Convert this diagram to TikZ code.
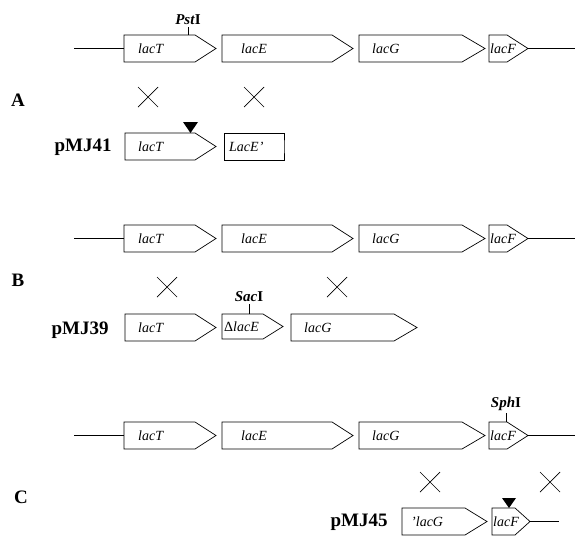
\documentclass[tikz,border=0pt]{standalone}
\usepackage{fontspec}
\setmainfont{Liberation Serif}
\newcommand\gn[8]{%
  \draw[gene] (#2,#5) -- (#3,#5) -- (#4,{(#5+#6)/2}) -- (#3,#6) -- (#2,#6) -- cycle;
  \node[glab] (#1) at (#7,{(#5+#6)/2+5}) {#8};}
\newcommand\xcross[2]{\draw[xo] (#1-10,#2-10) -- (#1+10,#2+10) (#1-10,#2+10) -- (#1+10,#2-10);}
\begin{document}
\begin{tikzpicture}[x=1pt,y=-1pt,
  gene/.style={draw, line width=0.7pt, line join=miter},
  glab/.style={font=\fontsize{14}{14}\selectfont\itshape, anchor=base west, inner sep=0pt},
  big/.style={font=\fontsize{19}{19}\selectfont\bfseries, anchor=base, inner sep=0pt},
  site/.style={font=\fontsize{15}{15}\selectfont\bfseries, anchor=south, inner sep=1pt},
  xo/.style={line width=0.7pt},
  dna/.style={line width=0.7pt}]
\useasboundingbox (0,0) rectangle (588,549);
% ---------- Panel A ----------
\coordinate (aL) at (74,48.5);
\coordinate (aR) at (575,48.5);
\gn{aT}{124}{195}{216}{35}{62}{138}{lacT}
\gn{aE}{222}{332}{353}{35}{62}{241}{lacE}
\gn{aG}{359}{462}{485}{35}{62}{372}{lacG}
\gn{aF}{489}{507}{528}{35}{62}{490}{lacF}
\draw[dna] (aL) -- (124,48.5);
\draw[dna] (528,48.5) -- (aR);
\draw[dna] (188,27) -- (188,35);
\node[site] (pst) at (188,26) {\textit{Pst}I};
\node[big] (labA) at (18,106) {A};
\xcross{148}{97}
\xcross{254}{97}
\node[big] (p41) at (83,151) {pMJ41};
\gn{pT}{125}{195}{216}{133}{160}{138}{lacT}
\gn{pE}{224}{284}{284}{133}{160}{229}{LacE'}
\fill (183,122) -- (198,122) -- (190.5,133) -- cycle;
% ---------- Panel B ----------
\coordinate (bL) at (74,238.5);
\coordinate (bR) at (575,238.5);
\gn{bT}{124}{195}{216}{225}{252}{138}{lacT}
\gn{bE}{222}{332}{353}{225}{252}{241}{lacE}
\gn{bG}{359}{462}{485}{225}{252}{372}{lacG}
\gn{bF}{489}{507}{528}{225}{252}{490}{lacF}
\draw[dna] (bL) -- (124,238.5);
\draw[dna] (528,238.5) -- (bR);
\node[big] (labB) at (18,286) {B};
\xcross{167}{287}
\xcross{337}{287}
\node[big] (p39) at (80,334) {pMJ39};
\gn{qT}{125}{195}{216}{314}{341}{138}{lacT}
\gn{qE}{222}{263}{283}{314}{339}{224}{{\upshape Δ}lacE}
\gn{qG}{291}{394}{417}{314}{341}{304}{lacG}
\draw[dna] (249,304) -- (249,314);
\node[site] (sac) at (249,303) {\textit{Sac}I};
% ---------- Panel C ----------
\coordinate (cL) at (74,435.5);
\coordinate (cR) at (575,435.5);
\gn{cT}{124}{195}{216}{422}{449}{138}{lacT}
\gn{cE}{222}{332}{353}{422}{449}{241}{lacE}
\gn{cG}{359}{462}{485}{422}{449}{372}{lacG}
\gn{cF}{489}{507}{528}{422}{449}{490}{lacF}
\draw[dna] (cL) -- (124,435.5);
\draw[dna] (528,435.5) -- (cR);
\draw[dna] (506,413) -- (506,422);
\node[site] (sph) at (506,412) {\textit{Sph}I};
\node[big] (labC) at (21,503) {C};
\xcross{430}{482}
\xcross{550}{482}
\node[big] (p45) at (359,526) {pMJ45};
\gn{rG}{402}{465}{487}{508}{535}{411}{'lacG}
\gn{rF}{492}{515}{530}{508}{535}{493}{lacF}
\coordinate (rR) at (559,521.5);
\draw[dna] (530,521.5) -- (rR);
\fill (502,498) -- (516,498) -- (509,508) -- cycle;
\end{tikzpicture}
\end{document}
